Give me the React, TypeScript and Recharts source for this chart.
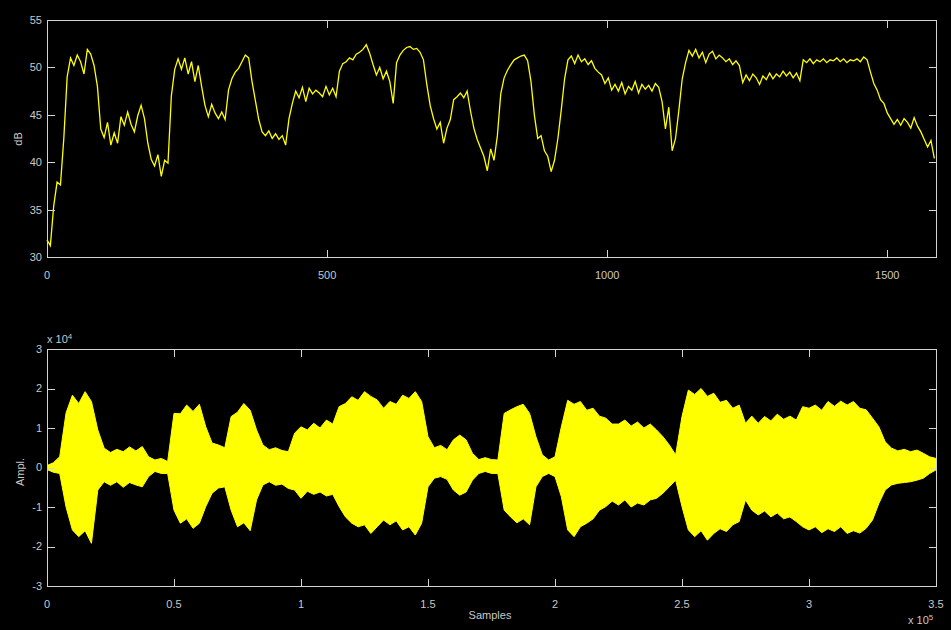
import { Area, AreaChart, Line, LineChart, XAxis, YAxis } from "recharts";

// frame step of the dB curve (one value every 6 frames)
const DB_STEP = 6;
const dbValues = [
  31.8, 31.2, 35.4, 37.9, 37.6, 42.5, 49.0, 51.0, 50.2, 51.3,
  50.6, 49.3, 51.9, 51.4, 50.2, 48.0, 43.5, 42.6, 44.2, 41.8,
  43.1, 42.0, 44.8, 43.9, 45.3, 44.0, 43.2, 44.9, 46.0, 44.6,
  42.0, 40.3, 39.6, 40.8, 38.5, 40.2, 39.9, 47.0, 49.8, 50.9,
  49.8, 51.0, 49.3, 50.6, 48.5, 50.2, 48.0, 46.0, 44.8, 46.1,
  45.2, 44.6, 45.3, 44.5, 47.6, 48.8, 49.5, 49.9, 50.6, 51.3,
  51.0, 48.5, 46.5, 44.5, 43.2, 42.8, 43.3, 42.5, 43.0, 42.4,
  42.8, 41.8, 44.6, 46.2, 47.5, 46.8, 47.9, 46.4, 47.8, 47.2,
  47.6, 47.3, 46.9, 48.0, 47.1, 47.8, 46.9, 49.6, 50.4, 50.6,
  51.0, 50.8, 51.4, 51.6, 51.9, 52.4, 51.5, 50.3, 49.2, 50.0,
  48.8, 49.6, 48.5, 46.2, 50.5, 51.3, 51.8, 52.1, 52.2, 51.9,
  52.0, 51.6, 50.8, 48.2, 46.0, 44.6, 43.5, 44.2, 42.0, 43.6,
  44.5, 46.6, 46.9, 47.3, 46.8, 47.5, 45.4, 43.6, 42.4, 41.5,
  40.6, 39.1, 41.4, 40.2, 42.8, 47.2, 48.9, 49.7, 50.3, 50.8,
  51.0, 51.2, 51.3, 50.7, 48.5, 45.0, 42.5, 42.8, 41.2, 40.6,
  39.0, 40.2, 42.5, 45.5, 48.8, 50.8, 51.2, 50.4, 51.3, 50.6,
  50.9, 50.3, 50.7, 49.9, 49.5, 49.2, 48.3, 48.9, 47.6, 48.2,
  47.5, 48.4, 47.2, 48.0, 47.6, 48.5, 47.3, 48.2, 47.7, 48.1,
  47.5, 48.3, 47.9, 46.4, 43.5, 45.8, 41.2, 42.5, 45.5, 48.8,
  50.5, 51.8, 51.2, 51.9, 51.0, 51.6, 50.5, 51.4, 51.7, 50.9,
  51.3, 51.0, 50.6, 50.9, 50.3, 50.7, 50.2, 48.4, 49.2, 48.6,
  49.3, 48.9, 48.2, 49.1, 48.7, 49.4, 48.8, 49.3, 49.0, 49.6,
  49.1, 49.5, 48.9, 49.4, 48.6, 50.8, 50.5, 50.9, 50.4, 50.8,
  50.6, 50.9, 50.5, 50.8, 50.7, 51.0, 50.6, 50.9, 50.5, 50.8,
  50.7, 50.9, 50.6, 51.1, 50.8, 49.5, 48.3, 47.6, 46.6, 46.2,
  45.2, 44.6, 44.0, 44.5, 43.9, 44.6, 44.2, 43.6, 44.7, 43.8,
  43.2, 42.4, 41.6, 42.3, 40.4,
];
const FRAME_MAX = 1587;
const frameTicks = [0, 500, 1000, 1500];
const dbTicks = [30, 35, 40, 45, 50, 55];

// waveform envelope, one pair every 2500 samples, amplitude in units of 10^4
const AMP_STEP = 2500;
const ampHi = [
  0.05, 0.12, 0.27, 1.38, 1.83, 1.62, 1.92, 1.67, 0.95, 0.49,
  0.38, 0.46, 0.4, 0.52, 0.42, 0.53, 0.27, 0.19, 0.23, 0.15,
  1.37, 1.36, 1.58, 1.42, 1.6, 1.03, 0.62, 0.57, 0.5, 1.29,
  1.4, 1.62, 1.45, 0.95, 0.57, 0.45, 0.5, 0.43, 0.4, 0.87,
  1.03, 0.95, 1.12, 1.0, 1.2, 1.1, 1.54, 1.62, 1.79, 1.7,
  1.92, 1.8, 1.71, 1.5, 1.67, 1.6, 1.83, 1.75, 1.92, 1.67,
  0.78, 0.5, 0.56, 0.45, 0.7, 0.82, 0.7, 0.36, 0.2, 0.25,
  0.2, 0.19, 1.37, 1.46, 1.54, 1.6, 1.37, 0.78, 0.32, 0.19,
  0.27, 1.03, 1.7, 1.6, 1.67, 1.45, 1.5, 1.3, 1.25, 1.1,
  1.1, 1.2, 1.05, 1.15, 1.0, 1.1, 0.95, 0.78, 0.57, 0.32,
  1.29, 1.96, 1.85, 2.0, 1.8, 1.88, 1.65, 1.7, 1.5, 1.58,
  1.12, 1.3, 1.12, 1.29, 1.18, 1.35, 1.22, 1.3, 1.2, 1.54,
  1.5, 1.58, 1.45, 1.67, 1.55, 1.68, 1.58, 1.67, 1.5, 1.46,
  1.25, 1.03, 0.65, 0.49, 0.42, 0.46, 0.4, 0.44, 0.36, 0.27,
  0.23,
];
const ampLo = [
  -0.05, -0.12, -0.15, -1.0, -1.58, -1.75, -1.6, -1.92, -0.57, -0.36,
  -0.45, -0.36, -0.5, -0.38, -0.44, -0.49, -0.23, -0.1, -0.15, -0.15,
  -1.08, -1.41, -1.3, -1.54, -1.41, -0.99, -0.65, -0.52, -0.49, -1.08,
  -1.5, -1.4, -1.6, -0.82, -0.44, -0.36, -0.45, -0.42, -0.53, -0.57,
  -0.78, -0.6, -0.68, -0.62, -0.72, -0.68, -0.99, -1.25, -1.41, -1.5,
  -1.45, -1.67, -1.5, -1.33, -1.45, -1.35, -1.58, -1.5, -1.71, -1.41,
  -0.49, -0.27, -0.23, -0.3, -0.57, -0.7, -0.62, -0.32, -0.15, -0.1,
  -0.15, -0.15, -1.08, -1.25, -1.4, -1.3, -1.45, -0.49, -0.23, -0.15,
  -0.23, -0.74, -1.58, -1.75, -1.5, -1.41, -1.3, -1.08, -0.99, -0.85,
  -0.95, -0.82, -1.0, -0.9, -0.95, -0.82, -0.78, -0.65, -0.49, -0.32,
  -0.99, -1.58, -1.75, -1.6, -1.84, -1.67, -1.55, -1.62, -1.45, -1.37,
  -0.82, -1.08, -1.2, -1.1, -1.25, -1.15, -1.3, -1.25, -1.37, -1.5,
  -1.58, -1.5, -1.65, -1.55, -1.62, -1.5, -1.67, -1.6, -1.66, -1.54,
  -1.33, -0.91, -0.57, -0.44, -0.4, -0.38, -0.36, -0.32, -0.27, -0.15,
  -0.06,
];
const SAMPLE_MAX = 350000;
const sampleTicks = [0, 50000, 100000, 150000, 200000, 250000, 300000, 350000];
const ampTicks = [-3, -2, -1, 0, 1, 2, 3];

const dbData = dbValues.map((db, i) => ({ frame: i * DB_STEP, db }));
const ampData = ampHi.map((hi, i) => ({ sample: i * AMP_STEP, hi, lo: ampLo[i] }));

const AXIS = "#d4d4d4";
const TEXT = "#c8c8c8";
const YELLOW = "#ffff00";
const FONT = "'Liberation Sans', Arial, sans-serif";

const CHART_W = 951;
const PLOT_L = 47;
const PLOT_W = 889;
const PLOT_H = 237;
const TICK_LEN = 8;

const XTick = (props: any) => {
  const { x, y, payload, fmt } = props;
  return (
    <text x={x} y={Number(y) + 14} dy="0.71em" textAnchor="middle" fill={TEXT} fontSize={11} fontFamily={FONT}>
      {fmt ? fmt(payload.value) : payload.value}
    </text>
  );
};

const YTick = (props: any) => {
  const { x, y, payload } = props;
  return (
    <text x={Number(x) - 5} y={y} dy="0.355em" textAnchor="end" fill={TEXT} fontSize={11} fontFamily={FONT}>
      {payload.value}
    </text>
  );
};

// matlab-style box with inward ticks on all four sides
type BoxProps = { top: number; xTicks: number[]; xMax: number; yTicks: number[]; yMin: number; yMax: number };
const Box = ({ top, xTicks, xMax, yTicks, yMin, yMax }: BoxProps) => {
  const mark = (left: number, t: number, w: number, h: number, key: string) => (
    <div key={key} style={{ position: "absolute", left, top: t, width: w, height: h, background: AXIS }} />
  );
  return (
    <>
      <div
        style={{
          position: "absolute",
          left: PLOT_L,
          top,
          width: PLOT_W + 1,
          height: PLOT_H + 1,
          border: `1px solid ${AXIS}`,
          boxSizing: "border-box",
        }}
      />
      {xTicks.map((t) => {
        const left = Math.round(PLOT_L + (t / xMax) * PLOT_W);
        return [
          mark(left, top, 1, TICK_LEN, `xt${t}`),
          mark(left, top + PLOT_H - TICK_LEN + 1, 1, TICK_LEN, `xb${t}`),
        ];
      })}
      {yTicks.map((v) => {
        const y = Math.round(top + ((yMax - v) / (yMax - yMin)) * PLOT_H);
        return [
          mark(PLOT_L, y, TICK_LEN, 1, `yl${v}`),
          mark(PLOT_L + PLOT_W - TICK_LEN + 1, y, TICK_LEN, 1, `yr${v}`),
        ];
      })}
    </>
  );
};

const label = (extra: React.CSSProperties): React.CSSProperties => ({
  position: "absolute",
  color: TEXT,
  fontSize: 11,
  fontFamily: FONT,
  whiteSpace: "nowrap",
  lineHeight: 1,
  ...extra,
});

const App = () => {
  return (
    <div
      style={{
        position: "fixed",
        left: 0,
        top: 0,
        width: 951,
        height: 630,
        background: "#000",
        overflow: "hidden",
      }}
    >
      <div style={{ position: "absolute", left: 0, top: 0 }}>
        <LineChart
          width={CHART_W}
          height={290}
          data={dbData}
          margin={{ top: 20, right: 15, bottom: 0, left: 0 }}
        >
          <XAxis
            dataKey="frame"
            type="number"
            domain={[0, FRAME_MAX]}
            ticks={frameTicks}
            height={33}
            axisLine={false}
            tickLine={false}
            tickSize={0}
            tickMargin={0}
            tick={(p: any) => <XTick {...p} />}
            interval={0}
          />
          <YAxis
            domain={[30, 55]}
            ticks={dbTicks}
            width={47}
            axisLine={false}
            tickLine={false}
            tickSize={0}
            tickMargin={0}
            tick={(p: any) => <YTick {...p} />}
            interval={0}
          />
          <Line
            dataKey="db"
            type="linear"
            stroke={YELLOW}
            strokeWidth={1.3}
            dot={false}
            isAnimationActive={false}
          />
        </LineChart>
      </div>

      <div style={{ position: "absolute", left: 0, top: 330 }}>
        <AreaChart
          width={CHART_W}
          height={300}
          data={ampData}
          margin={{ top: 19, right: 15, bottom: 0, left: 0 }}
        >
          <XAxis
            dataKey="sample"
            type="number"
            domain={[0, SAMPLE_MAX]}
            ticks={sampleTicks}
            height={44}
            axisLine={false}
            tickLine={false}
            tickSize={0}
            tickMargin={0}
            tick={(p: any) => <XTick {...p} fmt={(v: number) => String(v / 100000)} />}
            interval={0}
          />
          <YAxis
            domain={[-3, 3]}
            ticks={ampTicks}
            width={47}
            axisLine={false}
            tickLine={false}
            tickSize={0}
            tickMargin={0}
            tick={(p: any) => <YTick {...p} />}
            interval={0}
          />
          <Area
            dataKey={(d: { lo: number; hi: number }) => [d.lo, d.hi]}
            type="linear"
            stroke={YELLOW}
            strokeWidth={1}
            fill={YELLOW}
            fillOpacity={1}
            dot={false}
            activeDot={false}
            isAnimationActive={false}
          />
        </AreaChart>
      </div>

      <Box top={20} xTicks={frameTicks} xMax={FRAME_MAX} yTicks={dbTicks} yMin={30} yMax={55} />
      <Box top={349} xTicks={sampleTicks} xMax={SAMPLE_MAX} yTicks={ampTicks} yMin={-3} yMax={3} />

      <div style={label({ left: 18, top: 139, transform: "translate(-50%, -50%) rotate(-90deg)" })}>dB</div>
      <div style={label({ left: 20, top: 472, transform: "translate(-50%, -50%) rotate(-90deg)" })}>Ampl.</div>
      <div style={label({ left: 490, top: 615, transform: "translate(-50%, -50%)" })}>Samples</div>
      <div style={label({ left: 47, top: 333 })}>
        x 10<sup style={{ fontSize: 8, verticalAlign: "4px" }}>4</sup>
      </div>
      <div style={label({ left: 908, top: 614 })}>
        x 10<sup style={{ fontSize: 8, verticalAlign: "4px" }}>5</sup>
      </div>
    </div>
  );
};

export default App;
